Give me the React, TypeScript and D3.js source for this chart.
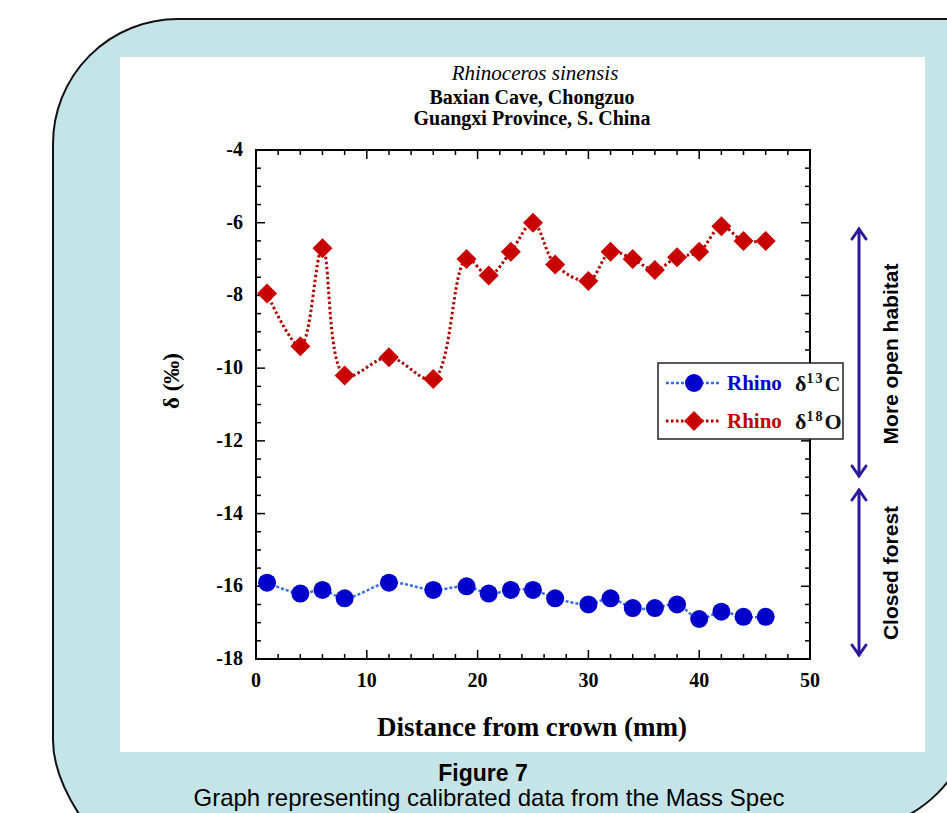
import React from "react";
import * as d3 from "d3";

const distC = [1, 4, 6, 8, 12, 16, 19, 21, 23, 25, 27, 30, 32, 34, 36, 38, 40, 42, 44, 46];
const rhinoC13 = [-15.9, -16.2, -16.1, -16.33, -15.9, -16.1, -16.0, -16.2, -16.1, -16.1, -16.33, -16.5, -16.33, -16.6, -16.6, -16.5, -16.9, -16.7, -16.84, -16.84];
const distO = [1, 4, 6, 8, 12, 16, 19, 21, 23, 25, 27, 30, 32, 34, 36, 38, 40, 42, 44, 46];
const rhinoO18 = [-7.95, -9.4, -6.7, -10.2, -9.7, -10.3, -7.0, -7.45, -6.8, -6.0, -7.15, -7.6, -6.8, -7.0, -7.3, -6.95, -6.8, -6.1, -6.5, -6.5];
const xTicks = [0, 10, 20, 30, 40, 50];
const yTicks = [-4, -6, -8, -10, -12, -14, -16, -18];
const titleLines = ["Rhinoceros sinensis", "Baxian Cave, Chongzuo", "Guangxi Province, S. China"];

const SERIF = "'Liberation Serif', 'Times New Roman', serif";
const SANS = "'Liberation Sans', Arial, sans-serif";

export default function App() {
  const L = 256, R = 810, T = 150, B = 659;
  const x = d3.scaleLinear().domain([0, 50]).range([L, R]);
  const y = d3.scaleLinear().domain([-18, -4]).range([B, T]);

  const minorX = d3.range(0, 50.01, 2);
  const minorY = d3.range(-18, -3.99, 0.5);

  const line = d3
    .line<[number, number]>()
    .x((d) => x(d[0]))
    .y((d) => y(d[1]))
    .curve(d3.curveCatmullRom.alpha(0.5));

  const cData: [number, number][] = distC.map((d, i) => [d, rhinoC13[i]]);
  const oData: [number, number][] = distO.map((d, i) => [d, rhinoO18[i]]);

  const diamond = (cx: number, cy: number, s: number) =>
    `M${cx},${cy - s}L${cx + s},${cy}L${cx},${cy + s}L${cx - s},${cy}Z`;

  const arrowColor = "#2b1a9e";
  const ax = 859;
  const arrow = (y1: number, y2: number) => (
    <g stroke={arrowColor} strokeWidth={3} fill="none" strokeLinecap="round">
      <line x1={ax} x2={ax} y1={y1 + 1} y2={y2 - 1} />
      <polyline points={`${ax - 7},${y1 + 11} ${ax},${y1 + 1} ${ax + 7},${y1 + 11}`} />
      <polyline points={`${ax - 7},${y2 - 11} ${ax},${y2 - 1} ${ax + 7},${y2 - 11}`} />
    </g>
  );

  return (
    <svg width={947} height={813} style={{ position: "absolute", left: 0, top: 0, background: "#fff" }}>
      <path
        d="M53,144 A125,125 0 0 1 178,19 L990,19 L990,705 L974,705 A125,125 0 0 1 849,830 L90,830 Q53,780 53,740 Z"
        fill="#c5e4e8"
        stroke="#111"
        strokeWidth={2}
      />
      <rect x={120} y={57} width={805} height={695} fill="#fff" />

      {/* titles */}
      <text x={535} y={80} textAnchor="middle" fontFamily={SERIF} fontStyle="italic" fontSize={21}>
        {titleLines[0]}
      </text>
      <text x={532} y={104} textAnchor="middle" fontFamily={SERIF} fontWeight="bold" fontSize={20}>
        {titleLines[1]}
      </text>
      <text x={532} y={125} textAnchor="middle" fontFamily={SERIF} fontWeight="bold" fontSize={20}>
        {titleLines[2]}
      </text>

      {/* ticks */}
      <g stroke="#000" strokeWidth={1.5}>
        {minorX.map((v) => {
          const major = v % 10 === 0;
          const len = major ? 9 : 5;
          return (
            <g key={"x" + v}>
              <line x1={x(v)} x2={x(v)} y1={B} y2={B - len} />
              <line x1={x(v)} x2={x(v)} y1={T} y2={T + len} />
            </g>
          );
        })}
        {minorY.map((v) => {
          const major = Math.abs(v % 2) === 0;
          const len = major ? 9 : 5;
          return (
            <g key={"y" + v}>
              <line x1={L} x2={L + len} y1={y(v)} y2={y(v)} />
              <line x1={R} x2={R - len} y1={y(v)} y2={y(v)} />
            </g>
          );
        })}
      </g>
      <rect x={L} y={T} width={R - L} height={B - T} fill="none" stroke="#000" strokeWidth={2} />

      {xTicks.map((v) => (
        <text key={v} x={x(v)} y={B + 28} textAnchor="middle" fontFamily={SERIF} fontWeight="bold" fontSize={20}>
          {v}
        </text>
      ))}
      {yTicks.map((v) => (
        <text key={v} x={L - 13} y={y(v) + 6} textAnchor="end" fontFamily={SERIF} fontWeight="bold" fontSize={20}>
          {v}
        </text>
      ))}

      <text x={532} y={736} textAnchor="middle" fontFamily={SERIF} fontWeight="bold" fontSize={27}>
        Distance from crown (mm)
      </text>
      <text
        transform={`translate(179,381) rotate(-90)`}
        textAnchor="middle"
        fontFamily={SERIF}
        fontWeight="bold"
        fontSize={23}
      >
        δ (‰)
      </text>

      {/* series */}
      <path d={line(cData) || ""} fill="none" stroke="#3a6cf0" strokeWidth={2.5} strokeDasharray="3,2" />
      {cData.map((d, i) => (
        <circle key={"c" + i} cx={x(d[0])} cy={y(d[1])} r={9} fill="#0000cc" />
      ))}
      <path d={line(oData) || ""} fill="none" stroke="#b00000" strokeWidth={3} strokeDasharray="2.5,2.5" />
      {oData.map((d, i) => (
        <path key={"o" + i} d={diamond(x(d[0]), y(d[1]), 10)} fill="#c80000" />
      ))}

      {/* legend */}
      <rect x={658} y={363} width={185} height={76} fill="#fff" stroke="#222" strokeWidth={1.5} />
      <line x1={666} x2={721} y1={383} y2={383} stroke="#3a6cf0" strokeWidth={2.5} strokeDasharray="3,2" />
      <circle cx={694} cy={383} r={9} fill="#0000cc" />
      <text x={727} y={390} fontFamily={SERIF} fontWeight="bold" fontSize={21} fill="#0000cc">
        Rhino
      </text>
      <text x={795} y={391} fontFamily={SERIF} fontWeight="bold" fontSize={22} fill="#111">
        δ
        <tspan dy={-8} fontSize={14} letterSpacing={2}>13</tspan>
        <tspan dy={8}>C</tspan>
      </text>
      <line x1={666} x2={721} y1={421} y2={421} stroke="#b00000" strokeWidth={3} strokeDasharray="2.5,2.5" />
      <path d={diamond(694, 421, 10)} fill="#c80000" />
      <text x={727} y={428} fontFamily={SERIF} fontWeight="bold" fontSize={21} fill="#c00000">
        Rhino
      </text>
      <text x={795} y={429} fontFamily={SERIF} fontWeight="bold" fontSize={22} fill="#111">
        δ
        <tspan dy={-8} fontSize={14} letterSpacing={2}>18</tspan>
        <tspan dy={8}>O</tspan>
      </text>

      {/* habitat arrows */}
      {arrow(228, 477)}
      {arrow(489, 656)}
      <text
        transform={`translate(898,354) rotate(-90)`}
        textAnchor="middle"
        fontFamily={SANS}
        fontWeight="bold"
        fontSize={21}
      >
        More open habitat
      </text>
      <text
        transform={`translate(898,573) rotate(-90)`}
        textAnchor="middle"
        fontFamily={SANS}
        fontWeight="bold"
        fontSize={21}
      >
        Closed forest
      </text>

      {/* caption */}
      <text x={483} y={781} textAnchor="middle" fontFamily={SANS} fontWeight="bold" fontSize={23}>
        Figure 7
      </text>
      <text x={489} y={806} textAnchor="middle" fontFamily={SANS} fontSize={24}>
        Graph representing calibrated data from the Mass Spec
      </text>
    </svg>
  );
}
